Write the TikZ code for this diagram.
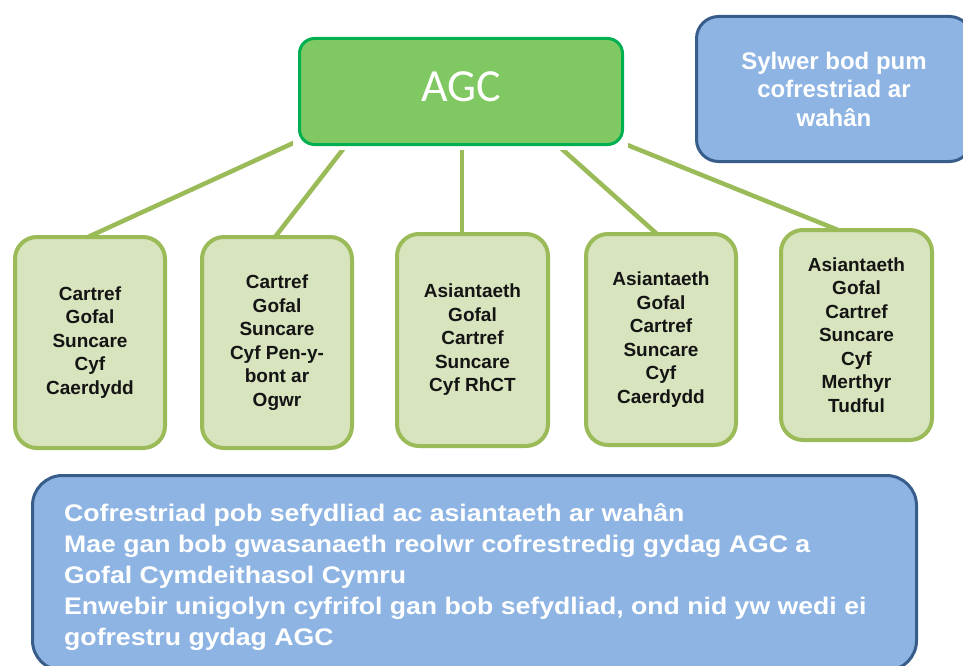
\documentclass[tikz,border=0pt]{standalone}
\usepackage{fontspec}
\setmainfont{Liberation Sans}
\newfontfamily\carlitofont{Carlito}
\newfontfamily\widesans[FakeStretch=1.11]{Liberation Sans}
\usetikzlibrary{calc}
\pgfdeclarelayer{linklayer}
\pgfsetlayers{linklayer,main}
\definecolor{agcfill}{RGB}{128,201,98}
\definecolor{agcline}{RGB}{0,176,80}
\definecolor{olivegreen}{RGB}{155,187,89}
\definecolor{palegreen}{RGB}{215,228,189}
\definecolor{bluefill}{RGB}{142,180,227}
\definecolor{blueline}{RGB}{56,93,138}
\definecolor{textdark}{RGB}{20,20,20}
\begin{document}
\begin{tikzpicture}[x=1pt,y=-1pt,
  orgbox/.style={draw=olivegreen, line width=4pt, fill=palegreen, rounded corners=22pt,
    minimum width=150pt, minimum height=211pt, inner sep=0pt, align=center,
    font=\bfseries\fontsize{19}{23.5}\selectfont, text=textdark},
  link/.style={draw=olivegreen, line width=4.5pt},
  notebox/.style={draw=blueline, line width=3pt, fill=bluefill, inner sep=0pt}]
\useasboundingbox (0,0) rectangle (963,666);
\clip (0,0) rectangle (963,666);

% top ends of the connectors (hidden under the white backing of AGC)
\coordinate (a1) at (313,134);
\coordinate (a2) at (351,139);
\coordinate (a3) at (462,140);
\coordinate (a4) at (553,141);
\coordinate (a5) at (610,138);

% organisation boxes
\node[orgbox] (b1) at (90,342.5) {Cartref\\Gofal\\Suncare\\Cyf\\Caerdydd};
\node[orgbox] (b2) at (277,342.5) {Cartref\\Gofal\\Suncare\\Cyf Pen-y-\\bont ar\\Ogwr};
\node[orgbox, minimum width=151pt, minimum height=212pt] (b3) at (472.5,340) {Asiantaeth\\Gofal\\Cartref\\Suncare\\Cyf RhCT};
\node[orgbox] (b4) at (661,339.5) {Asiantaeth\\Gofal\\Cartref\\Suncare\\Cyf\\Caerdydd};
\node[orgbox, minimum width=151pt, minimum height=210pt] (b5) at (856.5,335) {Asiantaeth\\Gofal\\Cartref\\Suncare\\Cyf\\Merthyr\\Tudful};

% connectors (behind the boxes)
\begin{pgfonlayer}{linklayer}
\draw[link] (a1) -- ($(b1.north)+(-2,2)$);
\draw[link] (a2) -- ($(b2.north)+(-2,2)$);
\draw[link] (a3) -- ($(b3.north)+(-10.5,2)$);
\draw[link] (a4) -- ($(b4.north)+(-4,2)$);
\draw[link] (a5) -- ($(b5.north)+(-18.5,2)$);
\end{pgfonlayer}

% white backing and AGC box
\node[fill=white, inner sep=0pt, minimum width=335pt, minimum height=114pt] (agcback) at (460.5,93) {};
\node[draw=agcline, line width=3pt, fill=agcfill, rounded corners=15pt, inner sep=0pt,
  minimum width=323pt, minimum height=106pt, text=white, text depth=10pt,
  font=\carlitofont\fontsize{46}{50}\selectfont] (agc) at (461,91.5) {AGC};

% note box top right
\node[notebox, rounded corners=22pt, minimum width=275pt, minimum height=145pt,
  align=center, text=white, font=\bfseries\fontsize{24}{28.5}\selectfont] (note) at (834,89)
  {Sylwer bod pum\\cofrestriad ar\\wahân};

% bottom summary box
\node[notebox, rounded corners=30pt, minimum width=884pt, minimum height=195pt] (summary) at (474.5,573) {};
\node[anchor=north west, inner sep=0pt, align=left, text=white,
  font=\widesans\bfseries\fontsize{24}{31.2}\selectfont] (summarytext) at (64,503)
  {Cofrestriad pob sefydliad ac asiantaeth ar wahân\\
   Mae gan bob gwasanaeth reolwr cofrestredig gydag AGC a\\
   Gofal Cymdeithasol Cymru\\
   Enwebir unigolyn cyfrifol gan bob sefydliad, ond nid yw wedi ei\\
   gofrestru gydag AGC};
\end{tikzpicture}
\end{document}
